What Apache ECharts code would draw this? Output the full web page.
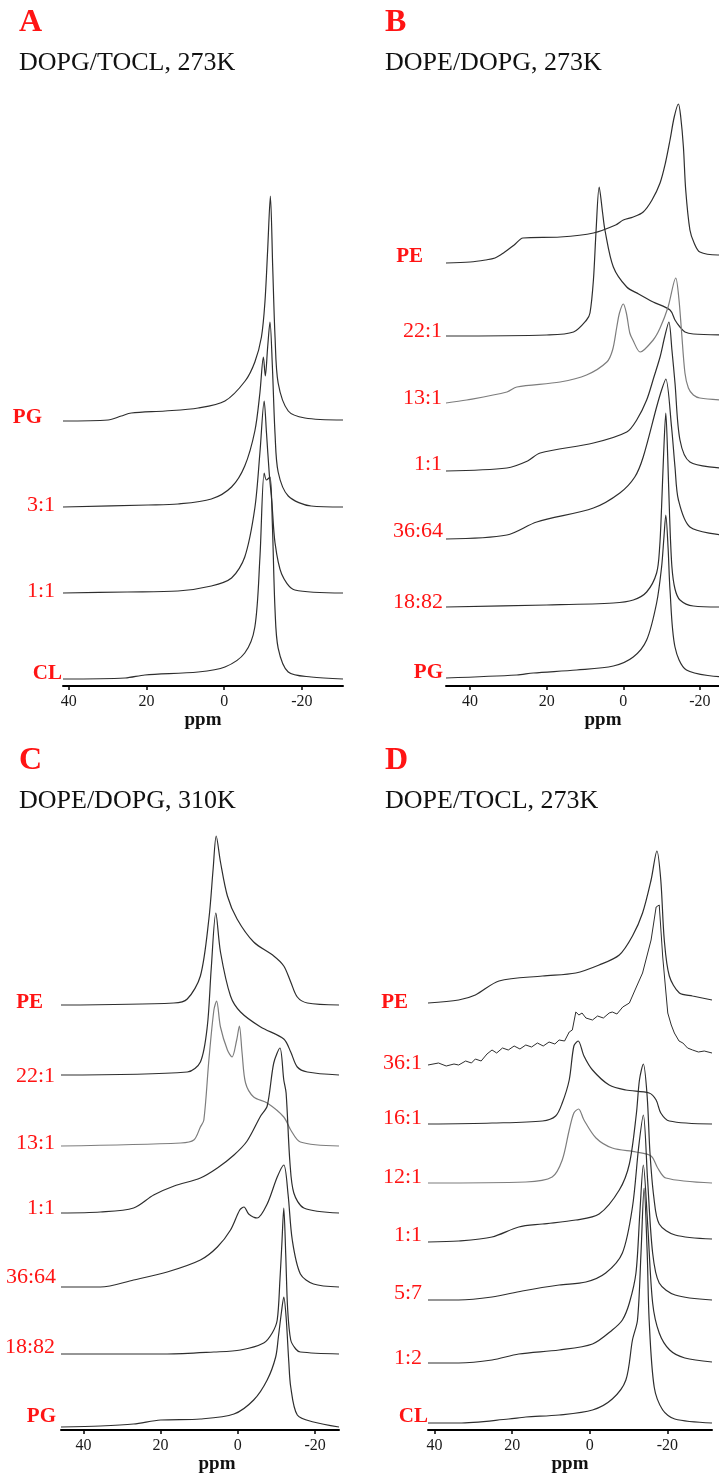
<!DOCTYPE html>
<html>
<head>
<meta charset="utf-8">
<script src="https://cdn.jsdelivr.net/npm/echarts@6/dist/echarts.min.js"></script>
<style>
  html, body { margin: 0; padding: 0; background: #fff; }
  #main { width: 719px; height: 1479px; }
</style>
</head>
<body>
<div id="main"></div>
<script>
// tick labels on every ppm axis
var ppmTicks = [40, 20, 0, -20];

// ---- A: DOPG/TOCL, 273K  ([ppm, height above own baseline]) ----
var aNames = ["PG", "3:1", "1:1", "CL"];
var aPG = [[41.5,0],[29.9,1],[26.5,5],[23.9,8],[15.2,10],[6.7,13],[-0.2,20],[-5.4,40],[-7.9,59],[-9.6,84],[-10.5,119],[-11.2,171],[-11.9,225],[-12.5,154],[-13.1,84],[-13.9,38],[-16.5,10],[-20.8,3],[-30.6,1]];
var a31 = [[41.5,0],[19.6,2],[11.9,3],[3.3,8],[-1.9,20],[-5.3,41],[-7.9,76],[-9.2,114],[-10.1,150],[-10.6,131],[-11.2,160],[-11.8,185],[-12.4,142],[-13.1,73],[-13.9,35],[-16.5,11],[-22.4,1],[-30.6,0]];
var a11 = [[41.5,0],[25,1],[11.9,2],[3.3,7],[-1.9,15],[-5.3,36],[-7.9,85],[-9.2,140],[-10.3,192],[-10.9,160],[-11.6,120],[-12.3,90],[-13.1,50],[-14.8,19],[-18.2,3],[-30.6,0]];
var aCL = [[41.5,0],[25.5,1],[20.4,4],[6.7,7],[-0.2,12],[-5.3,26],[-7.9,52],[-9.2,121],[-10.3,206],[-10.9,199],[-11.8,202],[-12.4,156],[-13.1,69],[-13.9,31],[-16.5,7],[-22.4,2],[-30.6,0]];

// ---- B: DOPE/DOPG, 273K ----
var bNames = ["PE", "22:1", "13:1", "1:1", "36:64", "18:82", "PG"];
var bPE = [[46.3,0],[40,1],[36,3],[33.5,5],[31.3,10],[28.5,18],[26.2,25],[16.5,26],[7.8,30],[2,38],[0,43],[-2.6,46],[-5.2,51],[-7.5,63],[-9.6,80],[-11,100],[-12.2,123],[-13.3,146],[-14.4,159],[-15,146],[-15.7,116],[-16.3,73],[-17.4,33],[-18.5,20],[-20,11],[-24.7,8],[-26,8]];
var b221 = [[46.3,0],[20,1],[13,4],[9.6,16],[8.7,23],[7.8,56],[7.1,106],[6.3,149],[5.4,123],[4.8,106],[2.6,69],[-0.9,49],[-4,42],[-7.8,34],[-12.2,26],[-13.5,16],[-14.8,9],[-16.1,4],[-18.3,2],[-26,1]];
var b131 = [[46.3,0],[40.9,3],[30.4,11],[27.8,16],[16.5,21],[9.6,28],[4.3,41],[2.8,53],[1.7,76],[1,90],[0,99],[-0.8,90],[-1.7,70],[-2.5,63],[-4.4,51],[-7.8,63],[-9.6,75],[-11.7,96],[-13.7,125],[-14.5,105],[-15.2,72],[-16.1,30],[-17,15],[-18.3,8],[-20,5],[-26,3]];
var b11 = [[46.3,0],[30.4,3],[25,10],[21.7,18],[7.8,28],[-0.9,39],[-3.5,51],[-6.1,71],[-8,94],[-9.6,114],[-10.8,134],[-11.9,149],[-12.7,121],[-13.5,88],[-14.8,31],[-17.4,9],[-26,3]];
var b3664 = [[46.3,0],[30.4,4],[22.6,17],[7.8,31],[0.9,46],[-3,62],[-5.2,82],[-8.7,132],[-10,149],[-11.1,160],[-12.6,112],[-13.5,72],[-14.4,39],[-17.4,12],[-26,4]];
var b1882 = [[46.3,0],[20,2],[2.6,4],[-2.6,7],[-6.1,15],[-8.7,34],[-9.5,60],[-10,100],[-10.5,150],[-11.1,194],[-11.6,150],[-12.1,90],[-12.7,40],[-13.5,18],[-14.8,7],[-18.3,1],[-26,0]];
var bPG = [[46.3,0],[27.8,3],[23.5,5],[12.2,8],[2.6,12],[-2.6,21],[-6.1,38],[-8.7,75],[-10,111],[-10.6,140],[-11.1,163],[-11.7,130],[-12.2,88],[-13.5,31],[-16.5,8],[-26,1]];

// ---- C: DOPE/DOPG, 310K ----
var cNames = ["PE", "22:1", "13:1", "1:1", "36:64", "18:82", "PG"];
var cPE = [[45.8,0],[16.6,2],[13.1,6],[9.7,29],[7.5,86],[6.4,136],[5.6,169],[4.5,143],[2.7,109],[0.2,86],[-4.1,63],[-9.3,49],[-11.9,39],[-13.7,23],[-15.4,8],[-18,2],[-26.2,0]];
var c221 = [[45.8,0],[13.1,3],[9.7,13],[7.9,49],[6.9,106],[5.7,162],[4.5,123],[1.9,79],[-0.7,63],[-5.9,48],[-11.9,36],[-13.7,23],[-15.4,8],[-18,3],[-26.2,0]];
var c131 = [[45.8,0],[14.8,3],[11.4,6],[9.7,19],[8.8,26],[7.5,86],[6.2,136],[5.5,145],[4.5,119],[2.7,96],[1.5,89],[0.3,106],[-0.4,120],[-1.1,93],[-2,63],[-4.1,49],[-7.6,43],[-11.9,29],[-13.7,16],[-16.2,4],[-26.2,0]];
var c11 = [[45.8,0],[35.6,1],[27,5],[21.8,18],[16.5,27],[9.7,35],[5.3,45],[1,58],[-2.4,72],[-5.9,97],[-7.6,107],[-9.3,150],[-10.9,165],[-11.9,133],[-12.5,120],[-13.5,50],[-14.5,20],[-17.1,5],[-26.2,0]];
var c3664 = [[45.8,0],[35.6,0],[27,7],[18.3,15],[9.7,27],[5.3,40],[1.9,57],[-0.5,77],[-1.6,80],[-2.8,73],[-5,69],[-7.6,83],[-10.2,110],[-11.9,122],[-13,93],[-14.1,47],[-16.2,13],[-19.6,3],[-26.2,0]];
var c1882 = [[45.8,0],[18.3,0],[6.2,2],[-0.7,4],[-6.7,11],[-8.9,21],[-10.2,34],[-10.9,74],[-11.4,110],[-11.9,146],[-12.4,100],[-12.9,45],[-13.7,14],[-15,5],[-16.2,2],[-26.2,0]];
var cPG = [[45.8,0],[35.6,1],[27,3],[20,7],[9.7,8],[1,13],[-4.1,27],[-7.6,47],[-9.8,70],[-10.5,90],[-11.3,115],[-11.9,130],[-12.5,110],[-13.2,65],[-13.7,40],[-15.4,12],[-19.6,5],[-26.2,0]];

// ---- D: DOPE/TOCL, 273K ----
var dNames = ["PE", "36:1", "16:1", "12:1", "1:1", "5:7", "1:2", "CL"];
var dPE = [[41.7,0],[33.8,3],[29.5,8],[23.4,22],[12.2,27],[3.6,30],[-2.4,38],[-7.6,48],[-11,67],[-13.6,90],[-15.8,123],[-17.3,152],[-18.3,123],[-19.2,63],[-20.5,27],[-23.1,10],[-26.5,7],[-31.5,3]];
var d361 = [[41.7,0],[39,2],[37,-1],[35,1],[33.8,0],[32,4],[30.5,2],[29.5,6],[28,4],[26.5,11],[25.2,15],[24,12],[22.5,17],[21,15],[19.5,19],[18,16],[16.5,20],[15,18],[13.5,22],[12,19],[10.5,23],[9,21],[7.9,25],[6.5,24],[5.3,33],[4.5,35],[3.6,53],[2.8,50],[2,52],[1,47],[-0.7,45],[-2,49],[-3.5,47],[-5,52],[-5.8,53],[-7,51],[-8.5,58],[-10.2,62],[-12,78],[-13.6,92],[-15.8,125],[-17.1,158],[-17.9,160],[-18.8,108],[-20.1,52],[-21,40],[-21.8,32],[-23,24],[-24,22],[-25.2,17],[-26.5,15],[-28,13],[-29.5,14],[-31.5,12]];
var d161 = [[41.7,0],[25.2,1],[12.2,3],[8.8,8],[7.1,21],[5.3,44],[4.1,78],[3,83],[1.5,68],[-0.7,54],[-5,39],[-9.3,34],[-15.3,31],[-17.1,24],[-18.3,11],[-20.5,3],[-31.5,0]];
var d121 = [[41.7,0],[16.5,1],[9.7,6],[7.1,23],[5.3,53],[4.1,70],[2.9,74],[1.5,63],[-1.6,45],[-5.8,35],[-11.9,31],[-15.8,27],[-17.5,15],[-19.6,5],[-31.5,0]];
var d11 = [[41.7,0],[33.8,1],[25.2,5],[18.3,15],[12.2,18],[3.6,22],[-2.4,28],[-7.6,52],[-10.2,78],[-12,128],[-12.8,162],[-13.8,178],[-14.8,145],[-15.5,90],[-16.5,45],[-17.9,18],[-22,7],[-31.5,3]];
var d57 = [[41.7,0],[33.8,0],[25.2,3],[17.4,9],[7.9,15],[1,18],[-4.1,27],[-8.4,47],[-11,93],[-12.6,153],[-13.8,185],[-14.9,120],[-16.2,47],[-17.9,17],[-22,5],[-31.5,0]];
var d12 = [[41.7,0],[33.8,0],[25.2,3],[18.3,9],[7.9,13],[-0.7,19],[-5.8,33],[-8.4,43],[-10.2,60],[-11.9,90],[-12.9,150],[-13.8,198],[-14.9,140],[-16.2,60],[-17.9,30],[-20.6,13],[-24.5,5],[-31.5,1]];
var dCL = [[41.7,0],[33.8,0],[20.9,4],[16.5,6],[7.9,8],[-0.7,13],[-5.8,24],[-9.3,43],[-11,83],[-12.3,103],[-13.2,170],[-14,235],[-14.8,170],[-15.3,103],[-16.6,36],[-18.8,13],[-21.9,4],[-31.5,0]];

// layout of the four panels (offsets are pixels above the axis line, labels are [right x, middle y])
var panels = [
  {
    letter: "A", title: "DOPG/TOCL, 273K", tx: 19, ty: 0,
    grid: { left: 63, width: 280, top: 150, height: 536 }, min: -30.6, max: 41.5, yMax: 536,
    names: aNames, spectra: [aPG, a31, a11, aCL],
    offsets: [265, 179, 93, 7],
    labels: [[42, 418], [55, 505], [55, 591], [62, 674]],
    gray: [], namePad: 0
  },
  {
    letter: "B", title: "DOPE/DOPG, 273K", tx: 385, ty: 0,
    // the right part of this axis runs past the page edge, as in the figure
    grid: { left: 446, width: 314, top: 90, height: 596 }, min: -35.7, max: 46.3, yMax: 596,
    names: bNames, spectra: [bPE, b221, b131, b11, b3664, b1882, bPG],
    offsets: [423, 350, 283, 215, 147, 79, 8],
    labels: [[423, 257], [442, 331], [442, 398], [442, 464], [443, 531], [443, 602], [443, 673]],
    gray: [2], namePad: 0
  },
  {
    letter: "C", title: "DOPE/DOPG, 310K", tx: 19, ty: 738,
    grid: { left: 61, width: 278, top: 820, height: 610 }, min: -26.2, max: 45.8, yMax: 610,
    names: cNames, spectra: [cPE, c221, c131, c11, c3664, c1882, cPG],
    offsets: [425, 355, 284, 217, 143, 76, 3],
    labels: [[43, 1003], [55, 1076], [55, 1143], [55, 1208], [56, 1277], [55, 1347], [56, 1417]],
    gray: [2], namePad: 34
  },
  {
    letter: "D", title: "DOPE/TOCL, 273K", tx: 385, ty: 738,
    grid: { left: 428, width: 284, top: 830, height: 600 }, min: -31.5, max: 41.7, yMax: 600,
    names: dNames, spectra: [dPE, d361, d161, d121, d11, d57, d12, dCL],
    offsets: [427, 365, 306, 247, 188, 130, 67, 7],
    labels: [[408, 1003], [422, 1063], [422, 1118], [422, 1177], [422, 1235], [422, 1293], [422, 1358], [428, 1417]],
    gray: [3], namePad: 0
  }
];

var serif = "Liberation Serif";
var red = "#ff1414";
var boldNames = ["PG", "PE", "CL"];

var grids = [], xAxes = [], yAxes = [], series = [], graphics = [];

panels.forEach(function (p, i) {
  p.grid.outerBoundsMode = "none";
  p.grid.containLabel = false;
  grids.push(p.grid);
  xAxes.push({
    type: "value", gridIndex: i, inverse: true, min: p.min, max: p.max,
    splitLine: { show: false },
    axisLine: { show: true, onZero: false, lineStyle: { color: "#000", width: 2 } },
    axisTick: { show: true, customValues: ppmTicks, length: 4, lineStyle: { color: "#000", width: 1.5 } },
    axisLabel: { customValues: ppmTicks, margin: 8, color: "#1a1a1a", fontFamily: serif, fontSize: 16 },
    name: "ppm", nameLocation: "middle", nameGap: 24,
    nameTextStyle: { color: "#111", fontFamily: serif, fontSize: 19, fontWeight: "bold", padding: [0, 0, 0, p.namePad] }
  });
  yAxes.push({ type: "value", gridIndex: i, min: 0, max: p.yMax, show: false });

  p.spectra.forEach(function (pts, j) {
    var off = p.offsets[j];
    // the 36:1 spectrum is noisy, keep its corners
    var noisy = pts === d361;
    series.push({
      type: "line", name: p.letter + " " + p.names[j],
      xAxisIndex: i, yAxisIndex: i,
      showSymbol: false, smooth: noisy ? false : 0.3, silent: true,
      lineStyle: { color: p.gray.indexOf(j) >= 0 ? "#7d7d7d" : "#2e2e2e", width: noisy ? 1 : 1.2 },
      data: pts.map(function (d) { return [d[0], d[1] + off]; })
    });
    var bold = boldNames.indexOf(p.names[j]) >= 0;
    graphics.push({
      type: "text", x: p.labels[j][0], y: p.labels[j][1],
      style: {
        text: p.names[j], fill: red, align: "right", verticalAlign: "middle",
        font: (bold ? "bold 21px " : "22px ") + serif
      }
    });
  });

  graphics.push({
    type: "text", x: p.tx, y: p.ty + 23,
    style: { text: p.letter, fill: red, verticalAlign: "middle", font: "bold 32px " + serif }
  });
  graphics.push({
    type: "text", x: p.tx, y: p.ty + 63,
    style: { text: p.title, fill: "#111", verticalAlign: "middle", font: "26px " + serif }
  });
});

var myChart = echarts.init(document.getElementById("main"));

var option = {
  animation: false,
  backgroundColor: "#fff",
  grid: grids,
  xAxis: xAxes,
  yAxis: yAxes,
  series: series,
  graphic: graphics
};

myChart.setOption(option);
</script>
</body>
</html>
